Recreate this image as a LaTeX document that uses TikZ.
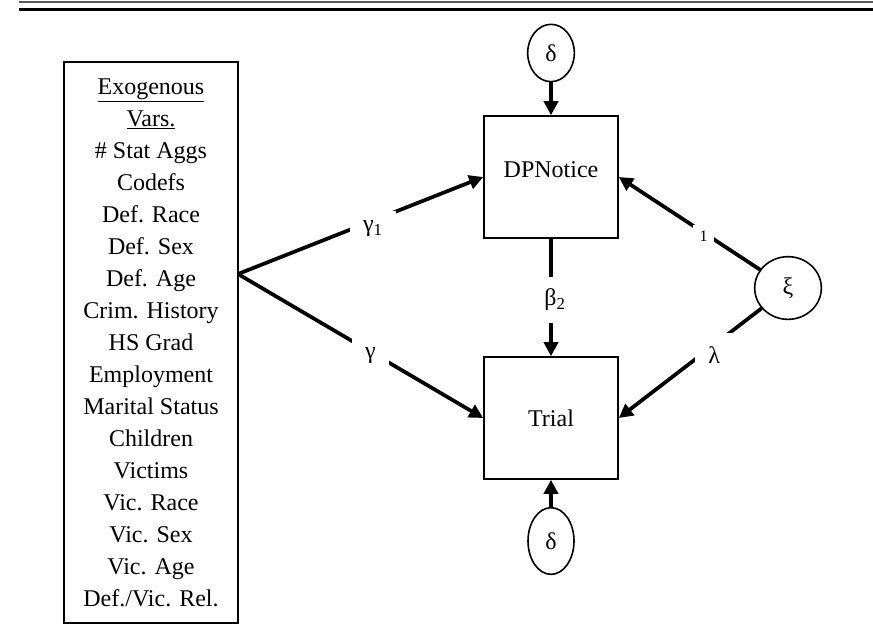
\documentclass[tikz,border=0pt]{standalone}
\usepackage{fontspec}
\setmainfont{Liberation Serif}
\usetikzlibrary{shapes.geometric, arrows.meta}
\tikzset{
  font=\fontsize{18}{24}\selectfont,      % Times-like text everywhere
  box/.style     = {rectangle, draw, line width=1.2pt, inner sep=0pt,
                    minimum width=100.5pt, minimum height=91.5pt},
  latent/.style  = {ellipse, draw, line width=1.2pt, inner sep=0pt},
  effect/.style  = {line width=2.8pt, -{Triangle[length=10.5pt, width=10.5pt]}},
  coef/.style    = {fill=white, inner sep=7pt}
}
\begin{document}
\begin{tikzpicture}[x=0.75pt, y=-0.75pt]
  \useasboundingbox (0,0) rectangle (873,637);
  % rules at the top of the page
  \draw[line width=1.2pt, gray!70!black] (19,2) -- (873,2);
  \draw[line width=2.6pt] (19,9.5) -- (873,9.5);
  % exogenous block
  \node[rectangle, draw, line width=1.2pt, minimum width=130.5pt,
        minimum height=420.75pt, align=center] (exo) at (151,342.5)
    {\underline{Exogenous}\\ \underline{Vars.}\\ \# Stat Aggs\\ Codefs\\
     Def. Race\\ Def. Sex\\ Def. Age\\ Crim. History\\ HS Grad\\ Employment\\
     Marital Status\\ Children\\ Victims\\ Vic. Race\\ Vic. Sex\\ Vic. Age\\
     Def./Vic. Rel.};
  \coordinate (apex) at (238,274);
  % endogenous variables
  \node[box] (dpn) at (551,177) {};
  \node (dpntext) at (551,170) {DPNotice};
  \node[box] (trial) at (551,418) {Trial};
  % disturbances and latent factor
  \node[latent, minimum width=35pt, minimum height=43pt] (dtop) at (551,53) {δ};
  \node[latent, minimum width=34.5pt, minimum height=50pt] (dbot) at (551,541) {δ};
  \node[latent, minimum width=50pt, minimum height=47pt] (xi) at (788,288) {ξ};
  % paths
  \draw[effect] (dtop) -- (dpn);
  \draw[effect] (dbot) -- (trial);
  \draw[effect] (apex) -- node[coef, pos=0.55, inner xsep=10pt, yshift=-6pt] (g1) {γ\textsubscript{1}} (dpn.west);
  \draw[effect] (apex) -- node[coef, pos=0.54, inner xsep=10pt, yshift=-3pt] (g2) {γ} (trial.west);
  \draw[effect] (dpn) -- node[coef, pos=0.52, inner ysep=9pt, xshift=3pt] (b2) {β\textsubscript{2}} (trial);
  \draw[effect] (xi) -- node[coef, pos=0.40, inner sep=5pt, yshift=-3pt, font=\fontsize{12}{14}\selectfont] (l1) {1} (dpn.east);
  \draw[effect] (xi) -- node[coef, pos=0.35, inner sep=10pt, yshift=-6pt, xshift=2pt] (l2) {λ} (trial.east);
\end{tikzpicture}
\end{document}
